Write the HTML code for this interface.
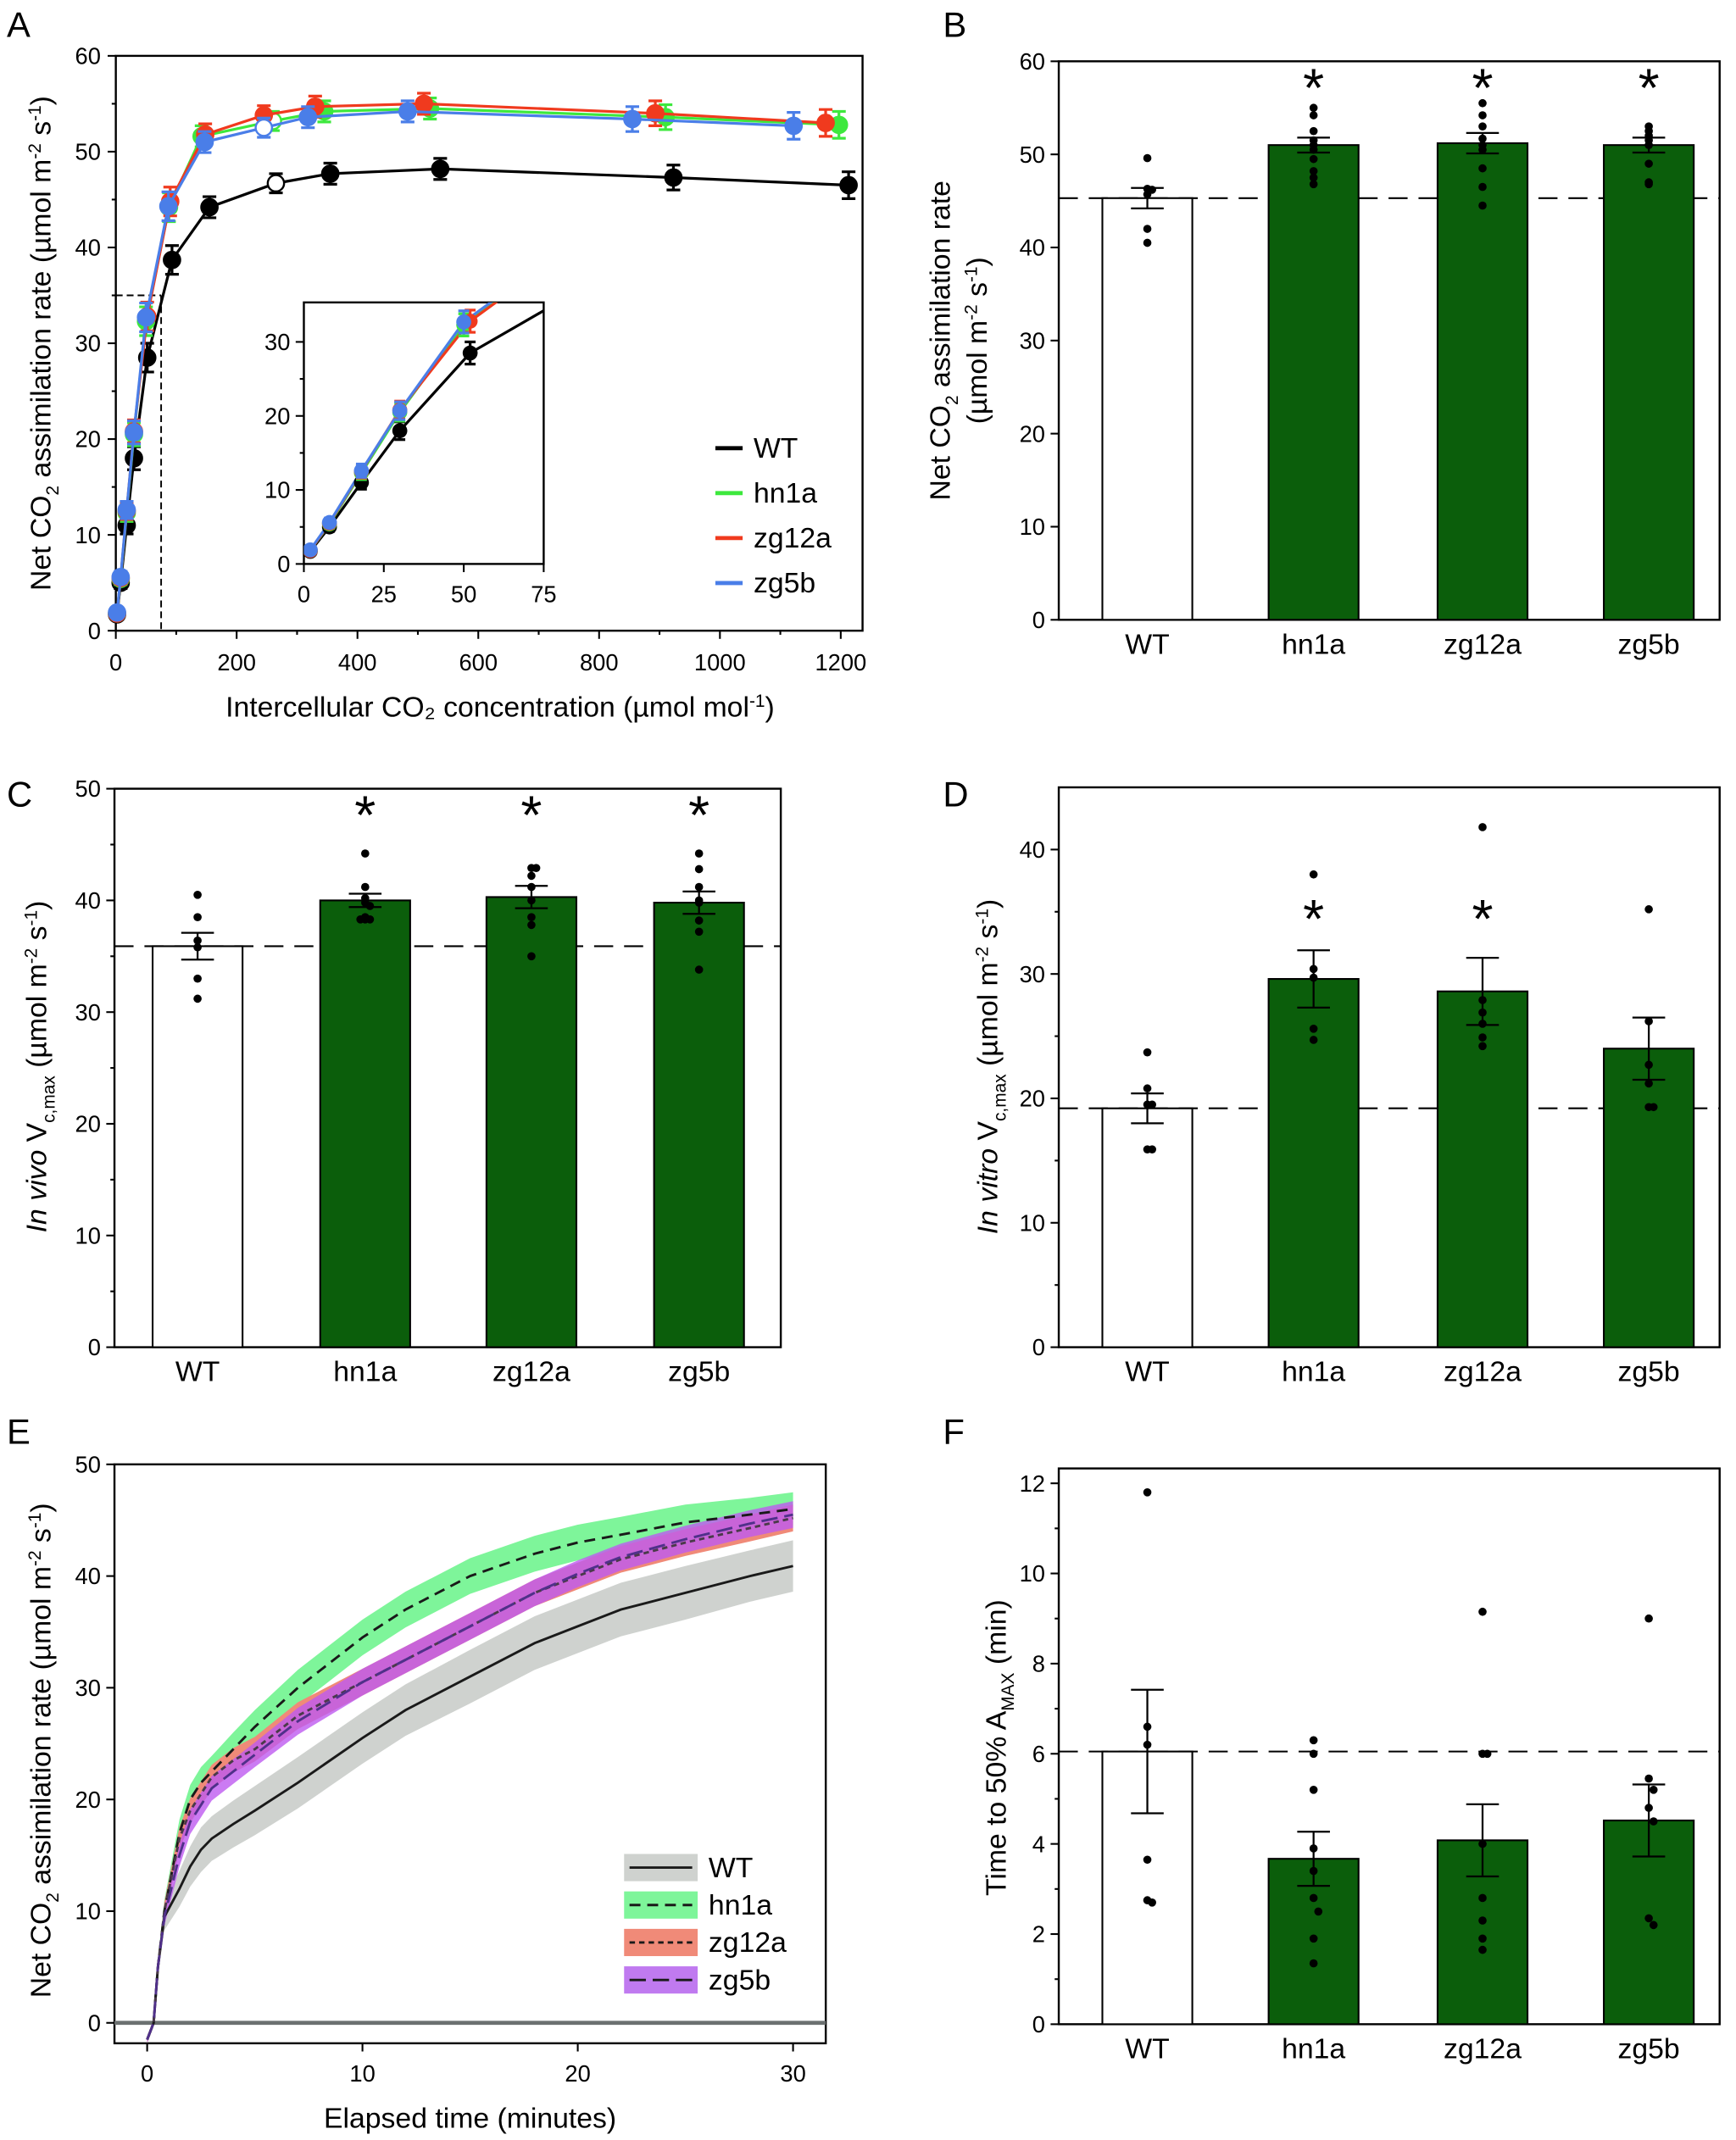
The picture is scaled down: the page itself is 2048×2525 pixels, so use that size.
<!DOCTYPE html>
<html><head><meta charset="utf-8"><style>
html,body{margin:0;padding:0;background:#fff}
svg{display:block;font-family:"Liberation Sans Narrow","Liberation Sans",Arial,sans-serif}
</style></head><body>
<svg id="fig" width="2048" height="2525" viewBox="0 0 1274 1571" preserveAspectRatio="none" xmlns="http://www.w3.org/2000/svg"></svg>
<script>
// ---------- Panel A data ----------
const aSeriesNames = ['WT','hn1a','zg12a','zg5b'];
const aWTx = [2,8,18,30,52,93,155,265,355,537,923,1213];
const aWTy = [1.7,5,11,18,28.5,38.7,44.2,46.7,47.7,48.2,47.3,46.5];
const aHNx = [2,8,18,30,50,88,142,260,345,520,910,1197];
const aHNy = [1.8,5.4,12.3,20.5,32.3,44.2,51.6,53.2,54.2,54.5,53.6,52.8];
const aZG12x = [2,8,18,30,52,90,148,245,330,510,893,1175];
const aZG12y = [1.8,5.5,12.5,20.8,32.8,44.8,51.8,53.8,54.7,55,54,53];
const aZG5x = [2,8,18,30,50,87,147,245,318,483,855,1122];
const aZG5y = [1.9,5.6,12.6,20.7,32.7,44.3,51,52.5,53.6,54.2,53.4,52.7];
const aErr = [0.4,0.6,0.9,1.2,1.5,1.5,1.1,1.0,1.1,1.1,1.3,1.4];
const aTicksX = [0,200,400,600,800,1000,1200];
const aTicksY = [0,10,20,30,40,50,60];
const insetTicksX = [0,25,50,75];
const insetTicksY = [0,10,20,30];
// ---------- Bar panels ----------
const categories = ['WT','hn1a','zg12a','zg5b'];
const bMeans = [45.3,51,51.2,51];
const bSE = [1.1,0.8,1.1,0.8];
const bDots = [[49.6,46.3,46.2,45.7,42,40.5],[55,54.2,52.5,51.5,51,50.5,49.5,48.2,47.5,46.8],[55.5,54.2,53,51.7,51,50.5,48.5,46.5,44.5],[53,52.5,52,51.5,51,49,47,46.8]];
const bTicks = [0,10,20,30,40,50,60];
const cMeans = [35.9,40,40.3,39.8];
const cSE = [1.2,0.6,1,1];
const cDots = [[40.5,38.5,36.4,35.8,33,31.2],[44.2,41.2,40.2,39.8,39.5,38.5,38.3,38.3,38.3],[42.9,42.9,42.2,41.2,40,38.5,37.8,35],[44.2,42.8,41.2,40,39.8,38.2,37.2,33.8]];
const cTicks = [0,10,20,30,40,50];
const dMeans = [19.2,29.6,28.6,24];
const dSE = [1.2,2.3,2.7,2.5];
const dDots = [[23.7,20.8,19.5,19.5,15.9,15.9],[38,30.4,29.7,25.6,24.7],[41.8,27.9,26.9,26,24.9,24.2],[35.2,26.2,22.7,21.2,19.3,19.3]];
const dTicks = [0,10,20,30,40];
const fMeans = [6.05,3.67,4.08,4.52];
const fSE = [1.37,0.6,0.8,0.8];
const fDots = [[11.8,6.6,6.2,3.65,2.75,2.7],[6.3,6.0,5.2,3.9,3.4,2.8,2.5,1.9,1.35],[9.15,6,6,4,2.8,2.3,1.9,1.65],[9,5.45,5.2,4.8,4.5,2.35,2.2]];
const fTicks = [0,2,4,6,8,10,12];
// ---------- Panel E data ----------
const eTime = [0,0.3,0.5,0.8,1.5,2,2.5,3,4,5,7,10,12,15,18,20,22,25,28,30];
const eWT = [-1.5,0,5,9.5,12,14,15.5,16.5,17.8,19,21.5,25.5,28,31,34,35.5,37,38.5,40,40.9];
const eHN = [-1.5,0,5,10,17,20,21.5,22.5,24.5,26.5,30,34.5,37,40,42,43,43.7,44.8,45.5,46];
const eZG12 = [-1.5,0,5,10,16.5,19,20.5,22,23.5,24.5,27.5,30.5,32.5,35.5,38.5,40,41.5,43,44.3,45.2];
const eZG5 = [-1.5,0,5,9.5,15,18,19.5,21,22.5,24,27,30.5,32.5,35.5,38.5,40.2,41.7,43.3,44.7,45.5];
const eWTband = [0.3,0.3,0.8,1.2,1.6,1.8,2,2,2.1,2.2,2.3,2.3,2.3,2.4,2.4,2.4,2.4,2.4,2.3,2.3];
const eHNband = [0.3,0.3,0.8,1,1.2,1.3,1.4,1.4,1.5,1.5,1.6,1.6,1.6,1.6,1.6,1.6,1.6,1.6,1.5,1.5];
const eZGband = [0.3,0.3,0.6,0.8,1,1.1,1.1,1.1,1.1,1.1,1.2,1.2,1.2,1.2,1.2,1.2,1.2,1.2,1.2,1.2];
const eTicksX = [0,10,20,30];
const eTicksY = [0,10,20,30,40,50];

const svg = document.getElementById('fig');
const NS = 'http://www.w3.org/2000/svg';
const TICK = 17, TITLE = 21, SUB = 13;
function el(tag, attrs, parent){const e=document.createElementNS(NS,tag);for(const k in attrs)e.setAttribute(k,attrs[k]);(parent||svg).appendChild(e);return e;}
function grp(name){const g=el('g',{});


return g;}
function txt(parent,x,y,s,size,anchor,extra){const t=el('text',Object.assign({x:x,y:y,'font-size':size,'text-anchor':anchor||'middle',fill:'#000'},extra||{}),parent);t.innerHTML=s;return t;}
function lin(p,x1,y1,x2,y2,st,w,dash){const a={x1:x1,y1:y1,x2:x2,y2:y2,stroke:st||'#000','stroke-width':w||1.3};if(dash)a['stroke-dasharray']=dash;return el('line',a,p);}
function lscale(d0,d1,r0,r1){return v=>r0+(v-d0)*(r1-r0)/(d1-d0);}
const unitStr='(µmol m<tspan dy="-7" font-size="'+SUB+'">-2</tspan><tspan dy="7"> s</tspan><tspan dy="-7" font-size="'+SUB+'">-1</tspan><tspan dy="7">)</tspan>';

// Panel letters
[['A',5,27],['B',692,27],['C',5,592],['D',692,592],['E',5,1060],['F',692,1060]].forEach(l=>{const g=grp('panel-label-'+l[0].toLowerCase());txt(g,l[1],l[2],l[0],26,'start');});

// ---------- Panel A ----------
(function(){
const g=grp('panel-a-chart');
const X=lscale(0,1200,85,617), Y=lscale(0,60,463,41);
el('rect',{x:85,y:41,width:548,height:422,fill:'none',stroke:'#000','stroke-width':1.5},g);
aTicksX.forEach(v=>{lin(g,X(v),463,X(v),469);txt(g,X(v),492,v,TICK);});
aTicksY.forEach(v=>{lin(g,79,Y(v),85,Y(v));txt(g,74,Y(v)+6,v,TICK,'end');});
[100,300,500,700,900,1100].forEach(v=>lin(g,X(v),463,X(v),466));
[5,15,25,35,45,55].forEach(v=>lin(g,82,Y(v),85,Y(v)));
lin(g,85,Y(35),X(75),Y(35),'#000',1.2,'5,3');lin(g,X(75),Y(35),X(75),463,'#000',1.2,'5,3');
const xt=txt(g,367,526,'Intercellular CO₂ concentration (µmol mol<tspan dy="-7" font-size="'+SUB+'">-1</tspan><tspan dy="7">)</tspan>',TITLE);

const yt=txt(g,0,0,'Net CO<tspan dy="6" font-size="'+SUB+'">2</tspan><tspan dy="-6"> assimilation rate </tspan>'+unitStr,TITLE,'middle',{transform:'translate(37,252) rotate(-90)'});

const series=[[aWTx,aWTy,'#000'],[aHNx,aHNy,'#3de83d'],[aZG12x,aZG12y,'#f03a1e'],[aZG5x,aZG5y,'#4a7ee8']];
series.forEach((s,si)=>{
 const sg=el('g',{},g);
 
 
 el('polyline',{points:s[0].map((x,i)=>X(x)+','+Y(s[1][i])).join(' '),fill:'none',stroke:s[2],'stroke-width':2},sg);
 s[0].forEach((x,i)=>{const cx=X(x),cy=Y(s[1][i]),e=aErr[i]*(Y(0)-Y(1));
  lin(sg,cx,cy-e,cx,cy+e,s[2],2);lin(sg,cx-5,cy-e,cx+5,cy-e,s[2],2);lin(sg,cx-5,cy+e,cx+5,cy+e,s[2],2);
  const open=(i===7&&si!==2);
  const c=el('circle',{cx:cx,cy:cy,r:6,fill:open?'#fff':s[2],stroke:s[2],'stroke-width':1.5},sg);
  
  
 });});
// inset
const ig=el('g',{},g);


const IX=lscale(0,75,223,399), IY=lscale(0,30,414,251);
el('rect',{x:223,y:222,width:176,height:192,fill:'#fff',stroke:'#000','stroke-width':1.5},ig);
insetTicksX.forEach(v=>{lin(ig,IX(v),414,IX(v),420);txt(ig,IX(v),442,v,TICK);});
insetTicksY.forEach(v=>{lin(ig,217,IY(v),223,IY(v));txt(ig,213,IY(v)+6,v,TICK,'end');});
[5,15,25].forEach(v=>lin(ig,220,IY(v),223,IY(v)));
const cp=el('clipPath',{id:'insetclip'},svg);el('rect',{x:223,y:222,width:176,height:192},cp);
const ic=el('g',{'clip-path':'url(#insetclip)'},ig);
series.forEach((s,si)=>{let pts=[];s[0].forEach((x,i)=>{if(i<=6)pts.push(IX(x)+','+IY(s[1][i]));});el('polyline',{points:pts.join(' '),fill:'none',stroke:s[2],'stroke-width':2},ic);});
series.forEach((s,si)=>{s[0].forEach((x,i)=>{if(x>60)return;const cx=IX(x),cy=IY(s[1][i]),e=aErr[i]*(IY(0)-IY(1));
 lin(ic,cx,cy-e,cx,cy+e,s[2],2);lin(ic,cx-4,cy-e,cx+4,cy-e,s[2],2);lin(ic,cx-4,cy+e,cx+4,cy+e,s[2],2);
 el('circle',{cx:cx,cy:cy,r:5.5,fill:s[2]},ic);});});
// legend
const lg=el('g',{},g);


series.forEach((s,i)=>{const y=329+i*33;lin(lg,525,y,545,y,s[2],3);txt(lg,553,y+7,aSeriesNames[i],TITLE,'start');});
})();

// ---------- Bar panels ----------
function barPanel(name,ax,top,bottom,right,ymax,ticks,minor,means,se,dots,stars,starY,ytitle,ytx,yty){
 const g=grp(name);
 const Y=lscale(0,ymax,bottom,top);
 const centers=ax===84?[145,268,390,513]:[842,964,1088,1210];
 const bw=66;
 el('rect',{x:ax,y:top,width:right-ax,height:bottom-top,fill:'none',stroke:'#000','stroke-width':1.5},g);
 ticks.forEach(v=>{lin(g,ax-6,Y(v),ax,Y(v));txt(g,ax-10,Y(v)+6,v,TICK,'end');});
 minor.forEach(v=>lin(g,ax-3,Y(v),ax,Y(v)));
 lin(g,ax,Y(means[0]),right,Y(means[0]),'#000',1.3,'14,8');
 categories.forEach((c,i)=>{
  const cx=centers[i];
  const r=el('rect',{x:cx-bw/2,y:Y(means[i]),width:bw,height:bottom-Y(means[i]),fill:i===0?'#fff':'#0b5e0b',stroke:'#000','stroke-width':1.3},g);
  
  
  const t=Y(means[i]+se[i]),b=Y(means[i]-se[i]);
  lin(g,cx,t,cx,b,'#000',1.4);lin(g,cx-12,t,cx+12,t,'#000',1.4);lin(g,cx-12,b,cx+12,b,'#000',1.4);
  const dd={};
  dots[i].forEach(v=>{const k=Math.round(v*3);dd[k]=(dd[k]||0)+1;const off=dd[k]>1?(dd[k]%2?-1:1)*3.5*Math.ceil((dd[k]-1)/2):0;el('circle',{cx:cx+off,cy:Y(v),r:3,fill:'#000'},g);});
  const lt=txt(g,cx,bottom+25,c,TITLE);
  
  
  if(stars[i])txt(g,cx,starY[i],'*',40,'middle',{'font-family':'Liberation Sans, sans-serif'});
 });
 const yt=txt(g,0,0,ytitle,TITLE,'middle',{transform:'translate('+ytx+','+yty+') rotate(-90)'});
 
 return g;
}
barPanel('panel-b-chart',777,45,455,1262,60,bTicks,[],bMeans,bSE,bDots,[0,1,1,1],[0,78,78,78],
 '<tspan x="0" dy="-13">Net CO<tspan dy="6" font-size="'+SUB+'">2</tspan><tspan dy="-6"> assimilation rate</tspan></tspan><tspan x="0" dy="27">'+unitStr+'</tspan>',710,250);
barPanel('panel-c-chart',84,579,989,573,50,cTicks,[5,15,25,35,45],cMeans,cSE,cDots,[0,1,1,1],[0,612,612,612],
 '<tspan font-style="italic">In vivo</tspan> V<tspan dy="6" font-size="'+SUB+'">c,max</tspan><tspan dy="-6"> </tspan>'+unitStr,34,783);
barPanel('panel-d-chart',777,578,989,1262,45,dTicks,[5,15,25,35],dMeans,dSE,dDots,[0,1,1,0],[0,688,688,0],
 '<tspan font-style="italic">In vitro</tspan> V<tspan dy="6" font-size="'+SUB+'">c,max</tspan><tspan dy="-6"> </tspan>'+unitStr,732,783);
barPanel('panel-f-chart',777,1078,1486,1262,12.33,fTicks,[1,3,5,7,9,11],fMeans,fSE,fDots,[0,0,0,0],[0,0,0,0],
 'Time to 50% A<tspan dy="6" font-size="'+SUB+'">MAX</tspan><tspan dy="-6"> (min)</tspan>',738,1283);

// ---------- Panel E ----------
(function(){
const g=grp('panel-e-chart');
const X=lscale(0,30,108,582), Y=lscale(0,50,1485,1075);
el('rect',{x:84,y:1075,width:522,height:425,fill:'none',stroke:'#000','stroke-width':1.5},g);
eTicksX.forEach(v=>{lin(g,X(v),1500,X(v),1506);txt(g,X(v),1528,v,TICK);});
eTicksY.forEach(v=>{lin(g,78,Y(v),84,Y(v));txt(g,74,Y(v)+6,v,TICK,'end');});
lin(g,84,Y(0),606,Y(0),'#6b7070',3);
const band=(m,b,fill,nm)=>{const up=eTime.map((t,i)=>X(t)+','+Y(m[i]+b[i]));const lo=eTime.map((t,i)=>X(t)+','+Y(m[i]-b[i])).reverse();
 const p=el('polygon',{points:up.concat(lo).join(' '),fill:fill},g);
 
 };
const line=(m,dash,col,nm)=>{const a={points:eTime.map((t,i)=>X(t)+','+Y(m[i])).join(' '),fill:'none',stroke:col,'stroke-width':1.8};if(dash)a['stroke-dasharray']=dash;
 const p=el('polyline',a,g);
 
 };
band(eWT,eWTband,'#cfd2cf','WT');
band(eHN,eHNband,'#7ef59a','hn1a');
band(eZG12,eZGband,'#f08a78','zg12a');
band(eZG5,eZGband,'rgba(190,90,240,0.8)','zg5b');
line(eWT,null,'#1a1a1a','WT');
line(eHN,'8,5','#1a1a1a','hn1a');
line(eZG12,'4,3','#4a3a4a','zg12a');
line(eZG5,'12,5','#50308a','zg5b');
const xt=txt(g,345,1562,'Elapsed time (minutes)',TITLE);

const yt=txt(g,0,0,'Net CO<tspan dy="6" font-size="'+SUB+'">2</tspan><tspan dy="-6"> assimilation rate </tspan>'+unitStr,TITLE,'middle',{transform:'translate(37,1285) rotate(-90)'});

const lg=el('g',{},g);


const leg=[['WT','#cfd2cf',null],['hn1a','#7ef59a','8,5'],['zg12a','#f08a78','4,3'],['zg5b','#c07af0','12,5']];
leg.forEach((l,i)=>{const y=1371+i*27.5;el('rect',{x:458,y:y-10,width:54,height:20,fill:l[1]},lg);lin(lg,462,y,508,y,'#1a1a1a',1.8,l[2]);txt(lg,520,y+7,l[0],TITLE,'start');});
})();
</script>
</body></html>
